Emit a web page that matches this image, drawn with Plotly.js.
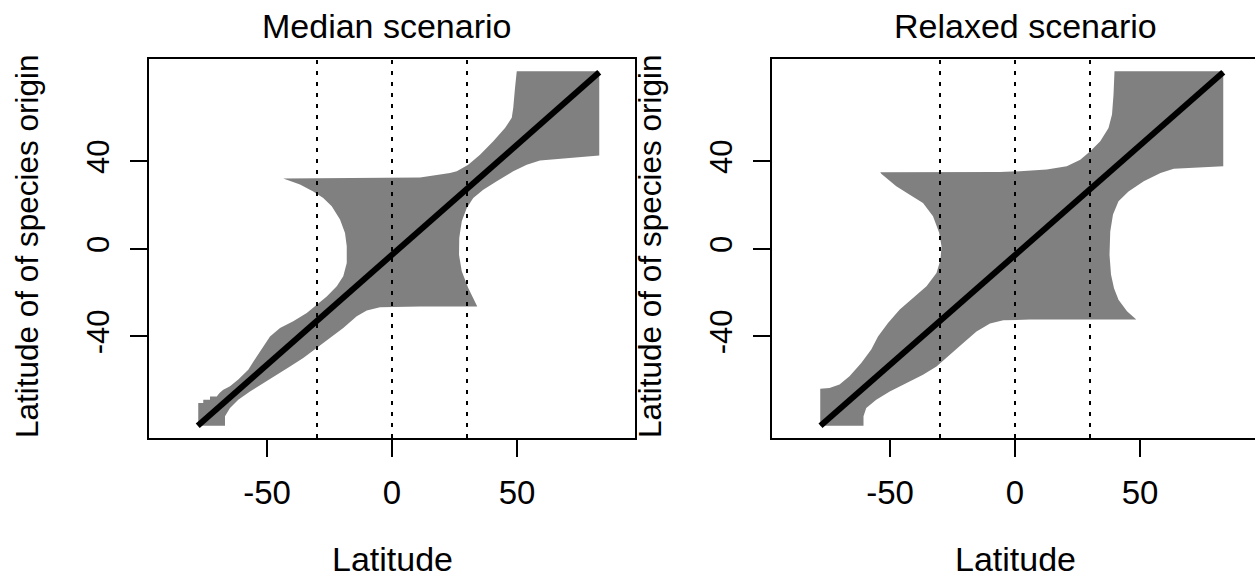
<!DOCTYPE html>
<html>
<head>
<meta charset="utf-8">
<script src="https://cdn.plot.ly/plotly-3.0.1.min.js"></script>
<style>
html,body{margin:0;padding:0;overflow:hidden;background:#fff;}
#chart{width:1260px;height:578px;}
</style>
</head>
<body>
<div id="chart"></div>
<script>
// ---- Data ----
var panelTitles = ["Median scenario", "Relaxed scenario"];
var xTitle = "Latitude";
var yTitle = "Latitude of of species origin";
var xTickVals = [-50, 0, 50];
var yTickVals = [-40, 0, 40];
var refLinesX = [-30, 0, 30];

// Median scenario: envelope polygon (latitude vs latitude of origin)
var medianPolyX = [49.9, 82.9, 82.9, 69.9, 59.2, 53.9, 48.5, 41.9, 36.5, 32.5, 29.9, 27.9, 26.9, 26.8, 27.9, 30.5, 33.9, 34.1,
  11.2, -4.8, -10.1, -14.1, -19.5, -24.8, -30.1, -35.5, -40.8, -46.1, -51.5, -56.8, -61.5, -64.8, -66.8, -66.8,
  -77.5, -77.5, -75.5, -75.5, -72.8, -72.8, -70.1, -69.0, -67.5, -64.8, -61.5, -57.5, -54.1, -51.5, -48.8, -44.8,
  -39.5, -34.1, -30.1, -26.1, -22.1, -19.5, -18.1, -18.1, -18.8, -20.8, -24.1, -27.5, -31.5, -36.8, -43.5,
  -4.8, 11.2, 23.2, 25.9, 30.5, 35.2, 40.5, 45.2, 47.9, 48.5, 49.2];
var medianPolyY = [81.2, 81.2, 42.7, 41.6, 40.4, 38.5, 35.5, 30.9, 27.1, 23.3, 18.7, 12.6, 5.0, -2.6, -10.2, -17.8, -25.5, -26.3,
  -26.3, -26.7, -28.1, -30.8, -36.1, -40.7, -45.3, -49.8, -53.7, -57.5, -61.3, -65.1, -68.9, -72.7, -76.5, -80.8,
  -80.8, -70.4, -70.4, -68.9, -68.9, -67.4, -67.4, -65.8, -64.3, -62.8, -59.7, -55.2, -49.1, -44.5, -40.0, -36.1,
  -33.1, -29.3, -25.5, -21.7, -17.1, -12.5, -6.4, 1.2, 7.3, 13.4, 19.5, 23.3, 26.3, 29.4, 32.2,
  32.5, 32.7, 34.7, 35.5, 38.5, 43.1, 49.2, 55.3, 59.9, 64.5, 73.6];
var medianLineX = [-77.7, 82.9];
var medianLineY = [-80.8, 80.7];

// Relaxed scenario: envelope polygon
var relaxedPolyX = [39.8, 83.3, 83.3, 74.2, 63.5, 58.2, 51.5, 45.4, 41.4, 39.2, 38.1, 37.8, 38.4, 39.6, 41.4, 44.8, 48.5,
  6.0, -4.7, -10.0, -15.4, -20.7, -26.1, -31.4, -36.8, -43.4, -50.1, -55.5, -59.5, -60.6, -60.6,
  -77.9, -77.9, -74.2, -70.2, -66.2, -61.5, -57.5, -54.8, -50.8, -46.1, -40.8, -35.4, -31.4, -29.8, -29.4, -30.3,
  -32.8, -36.8, -42.1, -47.5, -53.5, -53.9, -6.0, 2.0, 12.7, 20.7, 26.1, 30.1, 34.1, 37.4, 38.8, 39.4];
var relaxedPolyY = [81.2, 81.2, 37.8, 37.3, 36.6, 34.7, 30.9, 26.3, 21.8, 15.7, 8.0, -2.6, -11.7, -18.0, -23.2, -28.5, -32.2,
  -32.3, -32.6, -34.1, -37.7, -43.0, -48.3, -53.7, -57.5, -61.3, -65.1, -68.9, -72.7, -76.5, -80.8,
  -80.8, -63.9, -63.5, -62.0, -58.2, -52.1, -46.0, -40.0, -33.8, -27.7, -22.4, -17.1, -11.0, -4.9, 1.2, 7.3,
  14.9, 21.0, 24.8, 28.6, 34.4, 35.0, 35.2, 35.5, 36.3, 37.8, 40.8, 44.6, 49.2, 55.3, 61.4, 70.5];
var relaxedLineX = [-77.8, 83.3];
var relaxedLineY = [-80.8, 80.7];

// ---- Figure ----
var W = 1260, H = 578;
var FONT = "Liberation Sans, Arial, Helvetica, sans-serif";
var GREY = "#808080";

function px2x(p){ return p / W; }
function px2y(p){ return (H - p) / H; }

var traces = [
  {x: medianPolyX, y: medianPolyY, xaxis: "x", yaxis: "y", type: "scatter", mode: "lines",
   fill: "toself", fillcolor: GREY, line: {width: 0, color: GREY}, hoverinfo: "skip", showlegend: false},
  {x: medianLineX, y: medianLineY, xaxis: "x", yaxis: "y", type: "scatter", mode: "lines",
   line: {width: 6, color: "#000"}, showlegend: false},
  {x: relaxedPolyX, y: relaxedPolyY, xaxis: "x2", yaxis: "y2", type: "scatter", mode: "lines",
   fill: "toself", fillcolor: GREY, line: {width: 0, color: GREY}, hoverinfo: "skip", showlegend: false},
  {x: relaxedLineX, y: relaxedLineY, xaxis: "x2", yaxis: "y2", type: "scatter", mode: "lines",
   line: {width: 6, color: "#000"}, showlegend: false}
];

var shapes = [];
[["x", "y"], ["x2", "y2"]].forEach(function(ax){
  refLinesX.forEach(function(v){
    shapes.push({type: "line", xref: ax[0], yref: ax[1] + " domain", x0: v, x1: v, y0: 0, y1: 1,
      line: {color: "#000", width: 2, dash: "4px,7px"}, layer: "above"});
  });
});

function xAxis(domain, anchor){
  return {domain: domain, anchor: anchor, range: [-97.2, 97.2], tickvals: xTickVals,
    ticktext: xTickVals.map(String), ticks: "outside", ticklen: 17, tickwidth: 2, tickcolor: "#000",
    showline: true, mirror: true, linecolor: "#000", linewidth: 2, showgrid: false, zeroline: false,
    tickfont: {family: FONT, size: 33, color: "#000"}, ticklabelstandoff: 7, fixedrange: true};
}
function yAxis(anchor){
  return {domain: [px2y(438), px2y(59)], anchor: anchor, range: [-86.4, 86.8], tickvals: yTickVals,
    ticktext: yTickVals.map(String), ticks: "outside", ticklen: 17, tickwidth: 2, tickcolor: "#000",
    tickangle: -90, showline: true, mirror: true, linecolor: "#000", linewidth: 2, showgrid: false,
    zeroline: false, tickfont: {family: FONT, size: 31, color: "#000"}, ticklabelstandoff: 9, fixedrange: true};
}

var annotations = [
  {text: panelTitles[0], xref: "paper", yref: "paper", x: px2x(386), y: px2y(26), xanchor: "center", yanchor: "middle",
   showarrow: false, font: {family: FONT, size: 34, color: "#000"}},
  {text: panelTitles[1], xref: "paper", yref: "paper", x: px2x(1025), y: px2y(26), xanchor: "center", yanchor: "middle",
   showarrow: false, font: {family: FONT, size: 34, color: "#000"}},
  {text: xTitle, xref: "paper", yref: "paper", x: px2x(392), y: px2y(559), xanchor: "center", yanchor: "middle",
   showarrow: false, font: {family: FONT, size: 34, color: "#000"}},
  {text: xTitle, xref: "paper", yref: "paper", x: px2x(1015), y: px2y(559), xanchor: "center", yanchor: "middle",
   showarrow: false, font: {family: FONT, size: 34, color: "#000"}},
  {text: yTitle, xref: "paper", yref: "paper", x: px2x(27), y: px2y(246), xanchor: "center", yanchor: "middle",
   textangle: -90, showarrow: false, font: {family: FONT, size: 31.5, color: "#000"}},
  {text: yTitle, xref: "paper", yref: "paper", x: px2x(650), y: px2y(246), xanchor: "center", yanchor: "middle",
   textangle: -90, showarrow: false, font: {family: FONT, size: 31.5, color: "#000"}}
];

var layout = {
  width: W, height: H, margin: {l: 0, r: 0, t: 0, b: 0, pad: 0},
  paper_bgcolor: "#fff", plot_bgcolor: "#fff", showlegend: false,
  xaxis: xAxis([px2x(149), px2x(635)], "y"),
  yaxis: yAxis("x"),
  xaxis2: xAxis([px2x(772), px2x(1258)], "y2"),
  yaxis2: yAxis("x2"),
  shapes: shapes,
  annotations: annotations,
  font: {family: FONT, color: "#000"}
};

Plotly.newPlot("chart", traces, layout, {displayModeBar: false, staticPlot: true});
</script>
</body>
</html>
